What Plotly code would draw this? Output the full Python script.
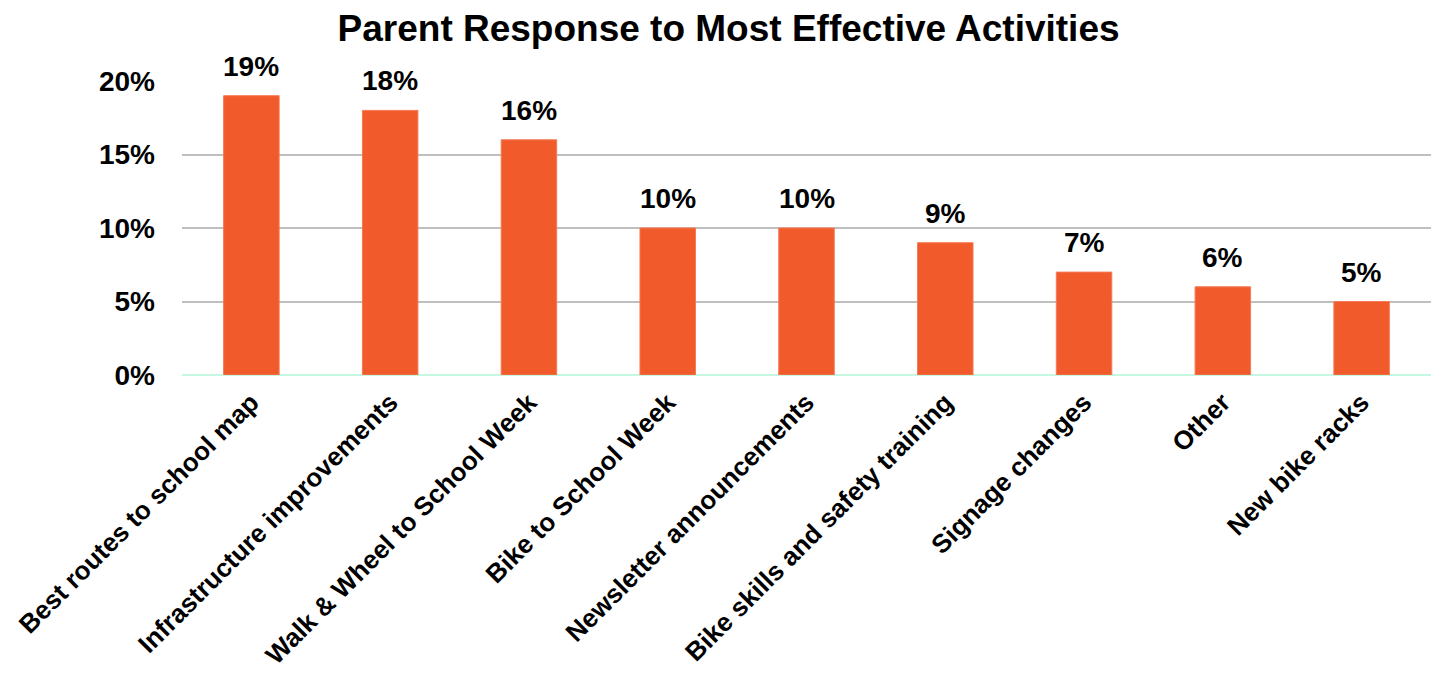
import plotly.graph_objects as go

activities = [
    "Best routes to school map",
    "Infrastructure improvements",
    "Walk & Wheel to School Week",
    "Bike to School Week",
    "Newsletter announcements",
    "Bike skills and safety training",
    "Signage changes",
    "Other",
    "New bike racks",
]
share_pct = [19, 18, 16, 10, 10, 9, 7, 6, 5]
y_ticks = [0, 5, 10, 15, 20]
y_tick_labels = ["0%", "5%", "10%", "15%", "20%"]

FONT = "Liberation Sans, Arial, sans-serif"
BAR = "#F15A2B"

fig = go.Figure(
    go.Bar(
        x=activities,
        y=share_pct,
        width=0.4,
        marker=dict(color=BAR, line=dict(color="#F57A55", width=1)),
        hoverinfo="skip",
    )
)

# value labels above each bar
for name, v in zip(activities, share_pct):
    fig.add_annotation(
        x=name, y=v, text=f"{v}%", showarrow=False,
        yanchor="bottom", yshift=12,
        font=dict(family=FONT, size=28, color="black", weight="bold"),
    )

fig.update_layout(
    width=1437, height=677,
    margin=dict(l=182, r=6, t=81, b=302),
    paper_bgcolor="white", plot_bgcolor="white",
    title=dict(
        text="Parent Response to Most Effective Activities",
        x=0.507, xanchor="center", y=0.958, yanchor="middle",
        font=dict(family=FONT, size=37, color="black", weight="bold"),
    ),
    showlegend=False,
    bargap=0.6,
)
fig.update_xaxes(
    tickangle=-45, automargin=False,
    tickfont=dict(family=FONT, size=26, color="black", weight="bold"),
    showgrid=False, showline=False, ticks="", ticklabelstandoff=6,
)
fig.update_yaxes(
    range=[0, 20], automargin=False,
    tickvals=y_ticks, ticktext=y_tick_labels,
    tickfont=dict(family=FONT, size=28, color="black", weight="bold"),
    showgrid=True, gridcolor="#BFBFBF", gridwidth=2,
    zeroline=True, zerolinecolor="#C6F7E0", zerolinewidth=2,
    ticks="", ticklabelstandoff=26, showline=False,
)

fig.write_html("out.html")
